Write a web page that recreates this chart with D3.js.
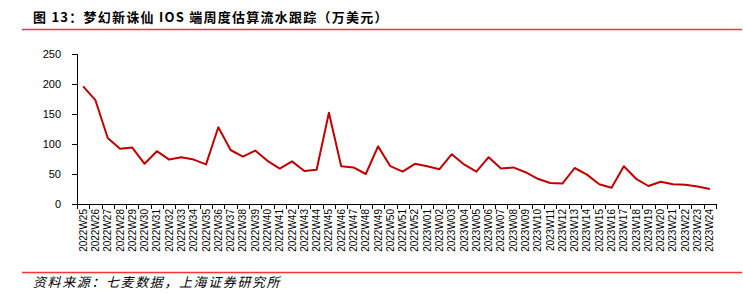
<!DOCTYPE html>
<html><head><meta charset="utf-8">
<script src="https://cdn.jsdelivr.net/npm/d3@7"></script>
<style>
body{margin:0;background:#fff;}
svg{display:block;}
</style></head>
<body>
<svg id="c" width="743" height="295"></svg>
<script>
const weeks = ["2022W25","2022W26","2022W27","2022W28","2022W29","2022W30","2022W31","2022W32","2022W33","2022W34","2022W35","2022W36","2022W37","2022W38","2022W39","2022W40","2022W41","2022W42","2022W43","2022W44","2022W45","2022W46","2022W47","2022W48","2022W49","2022W50","2022W51","2022W52","2023W01","2023W02","2023W03","2023W04","2023W05","2023W06","2023W07","2023W08","2023W09","2023W10","2023W11","2023W12","2023W13","2023W14","2023W15","2023W16","2023W17","2023W18","2023W19","2023W20","2023W21","2023W22","2023W23","2023W24"];
const revenue = [196,173,110,92,94,67,88,74,78,74,66,128,90,79,89,72,59,71,55,57,152,63,61,50,96,63,54,67,63,58,83,66,54,78,59,61,53,42,35,34,60,49,33,27,63,42,30,37,33,32,29,25];
const yTicks = [0,50,100,150,200,250];
const titleText = "图 13：梦幻新诛仙 IOS 端周度估算流水跟踪（万美元）";
const sourceText = "资料来源：七麦数据，上海证券研究所";

(function(){
const svg = d3.select("#c");
const mL = 77, mR = 716, mT = 54, mB = 204;

svg.append("line").attr("x1",22).attr("x2",742).attr("y1",29.5).attr("y2",29.5)
  .attr("stroke","#ff3333").attr("stroke-width",1.5);
svg.append("line").attr("x1",22).attr("x2",742).attr("y1",272.5).attr("y2",272.5)
  .attr("stroke","#ff3333").attr("stroke-width",1.5);

svg.append("text").attr("x",33).attr("y",21.5).text(titleText)
  .attr("font-family","'Noto Sans CJK SC', sans-serif").attr("font-weight","bold")
  .attr("font-size",13).attr("letter-spacing",1.25).attr("fill","#000");

svg.append("text").attr("x",33).attr("y",287).text(sourceText)
  .attr("font-family","'Noto Sans CJK SC', sans-serif").attr("font-style","italic")
  .attr("font-size",13).attr("letter-spacing",1.6).attr("fill","#000");

const x = d3.scaleBand().domain(weeks).range([mL,mR]);
const y = d3.scaleLinear().domain([0,250]).range([mB,mT]);

const ya = svg.append("g").attr("transform",`translate(${mL},0)`)
  .call(d3.axisLeft(y).tickValues(yTicks).tickSize(5).tickPadding(11));
ya.select(".domain").attr("stroke","#000");
ya.selectAll(".tick line").attr("stroke","#000");
ya.selectAll("text").attr("font-family","'Liberation Sans', Arial, sans-serif").attr("font-size",11).attr("fill","#000");

const xa = svg.append("g").attr("transform",`translate(0,${mB})`);
xa.append("line").attr("x1",mL).attr("x2",mR).attr("y1",0.5).attr("y2",0.5).attr("stroke","#000");
const bounds = weeks.map(w=>x(w)).concat([x(weeks[weeks.length-1])+x.bandwidth()]);
xa.selectAll("line.tk").data(bounds).enter().append("line").attr("class","tk")
  .attr("x1",d=>Math.round(d)+0.5).attr("x2",d=>Math.round(d)+0.5).attr("y1",0).attr("y2",5).attr("stroke","#000");
xa.selectAll("text").data(weeks).enter().append("text")
  .attr("transform",d=>`translate(${x(d)+x.bandwidth()/2+3.5},5) rotate(-90)`)
  .attr("text-anchor","end").attr("font-family","'Liberation Sans', Arial, sans-serif")
  .attr("font-size",10).attr("fill","#000").text(d=>d);

const line = d3.line().x((d,i)=>x(weeks[i])+x.bandwidth()/2).y(d=>y(d));
svg.append("path").datum(revenue).attr("d",line).attr("fill","none")
  .attr("stroke","#c00000").attr("stroke-width",2).attr("stroke-linejoin","round");
})();
</script>
</body></html>
